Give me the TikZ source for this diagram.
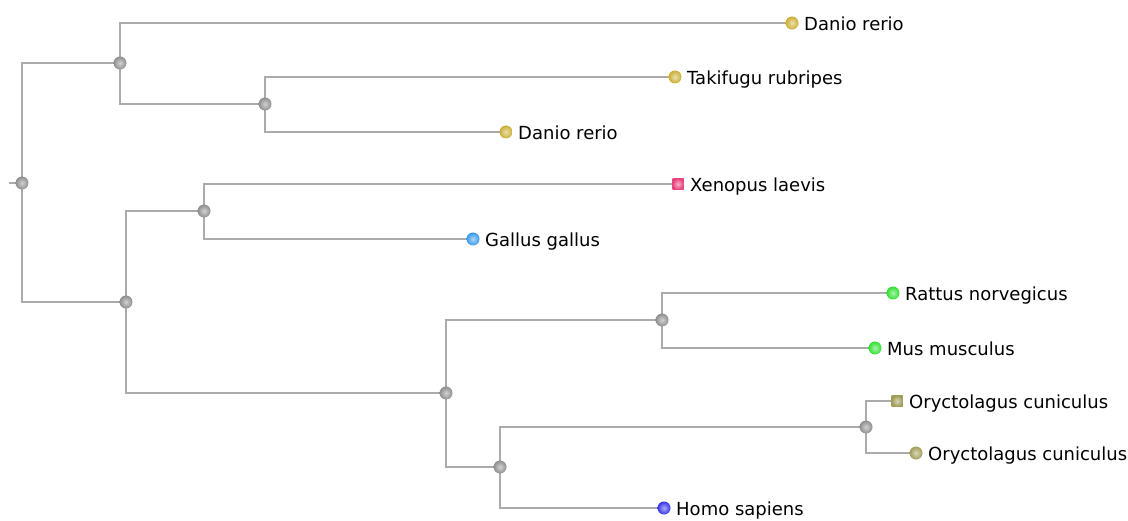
\documentclass[tikz,border=0pt]{standalone}
\usepackage{fontspec}
\setmainfont{DejaVu Sans}
\usetikzlibrary{backgrounds}
\definecolor{edgegray}{HTML}{ABABAB}
\definecolor{nodegray}{HTML}{8E8E8E}
\definecolor{fishgold}{HTML}{CCAE34}
\definecolor{frogpink}{HTML}{E8417E}
\definecolor{birdblue}{HTML}{3898F0}
\definecolor{rodgreen}{HTML}{30E030}
\definecolor{rabolive}{HTML}{A09C58}
\definecolor{humblue}{HTML}{3434EC}
\tikzset{
  softball/.style={shading=radial, inner color=#1!40!white, outer color=#1},
  inner/.style={circle, inner sep=0pt, minimum size=13bp, softball=nodegray},
  tipball/.style={circle, inner sep=0pt, minimum size=13bp, softball=#1},
  tipsquare/.style={rectangle, inner sep=0pt, minimum size=11bp, softball=#1},
  taxon/.style={anchor=base west, inner sep=0pt, font=\fontsize{18bp}{20bp}\selectfont},
  branch/.style={draw=edgegray, line width=1.6bp},
}
\newcommand{\taxonlabel}[3]{\node[taxon] (#1-l) at ([xshift=12bp, yshift=-7.5bp]#2.center) {#3};}
\begin{document}
\begin{tikzpicture}[x=1bp, y=-1bp]
\useasboundingbox (0,0) rectangle (1128,521);

% internal nodes
\node[inner] (root) at (22,183) {};
\node[inner] (nA) at (120,63) {};
\node[inner] (nB) at (265,104) {};
\node[inner] (nC) at (126,302) {};
\node[inner] (nD) at (204,211) {};
\node[inner] (nE) at (446,393) {};
\node[inner] (nF) at (662,320) {};
\node[inner] (nG) at (500,467) {};
\node[inner] (nH) at (866,427) {};
\coordinate (stub) at (9,183);

% tips
\node[tipball=fishgold] (dr1) at (792,23) {};
\node[tipball=fishgold] (tr) at (675,77) {};
\node[tipball=fishgold] (dr2) at (506,132) {};
\node[tipsquare=frogpink] (xl) at (678,184) {};
\node[tipball=birdblue] (gg) at (473,239) {};
\node[tipball=rodgreen] (rn) at (893,293) {};
\node[tipball=rodgreen] (mm) at (875,348) {};
\node[tipsquare=rabolive] (oc1) at (897,401) {};
\node[tipball=rabolive] (oc2) at (916,453) {};
\node[tipball=humblue] (hs) at (664,508) {};

% tip labels
\taxonlabel{dr1}{dr1}{Danio rerio}
\taxonlabel{tr}{tr}{Takifugu rubripes}
\taxonlabel{dr2}{dr2}{Danio rerio}
\taxonlabel{xl}{xl}{Xenopus laevis}
\taxonlabel{gg}{gg}{Gallus gallus}
\taxonlabel{rn}{rn}{Rattus norvegicus}
\taxonlabel{mm}{mm}{Mus musculus}
\taxonlabel{oc1}{oc1}{Oryctolagus cuniculus}
\taxonlabel{oc2}{oc2}{Oryctolagus cuniculus}
\taxonlabel{hs}{hs}{Homo sapiens}

% branches
\begin{scope}[on background layer]
\draw[branch] (stub) -- (root.center);
\draw[branch] (root.center) |- (nA.center);
\draw[branch] (root.center) |- (nC.center);
\draw[branch] (nA.center) |- (dr1.center);
\draw[branch] (nA.center) |- (nB.center);
\draw[branch] (nB.center) |- (tr.center);
\draw[branch] (nB.center) |- (dr2.center);
\draw[branch] (nC.center) |- (nD.center);
\draw[branch] (nC.center) |- (nE.center);
\draw[branch] (nD.center) |- (xl.center);
\draw[branch] (nD.center) |- (gg.center);
\draw[branch] (nE.center) |- (nF.center);
\draw[branch] (nE.center) |- (nG.center);
\draw[branch] (nF.center) |- (rn.center);
\draw[branch] (nF.center) |- (mm.center);
\draw[branch] (nG.center) |- (nH.center);
\draw[branch] (nG.center) |- (hs.center);
\draw[branch] (nH.center) |- (oc1.center);
\draw[branch] (nH.center) |- (oc2.center);
\end{scope}
\end{tikzpicture}
\end{document}
